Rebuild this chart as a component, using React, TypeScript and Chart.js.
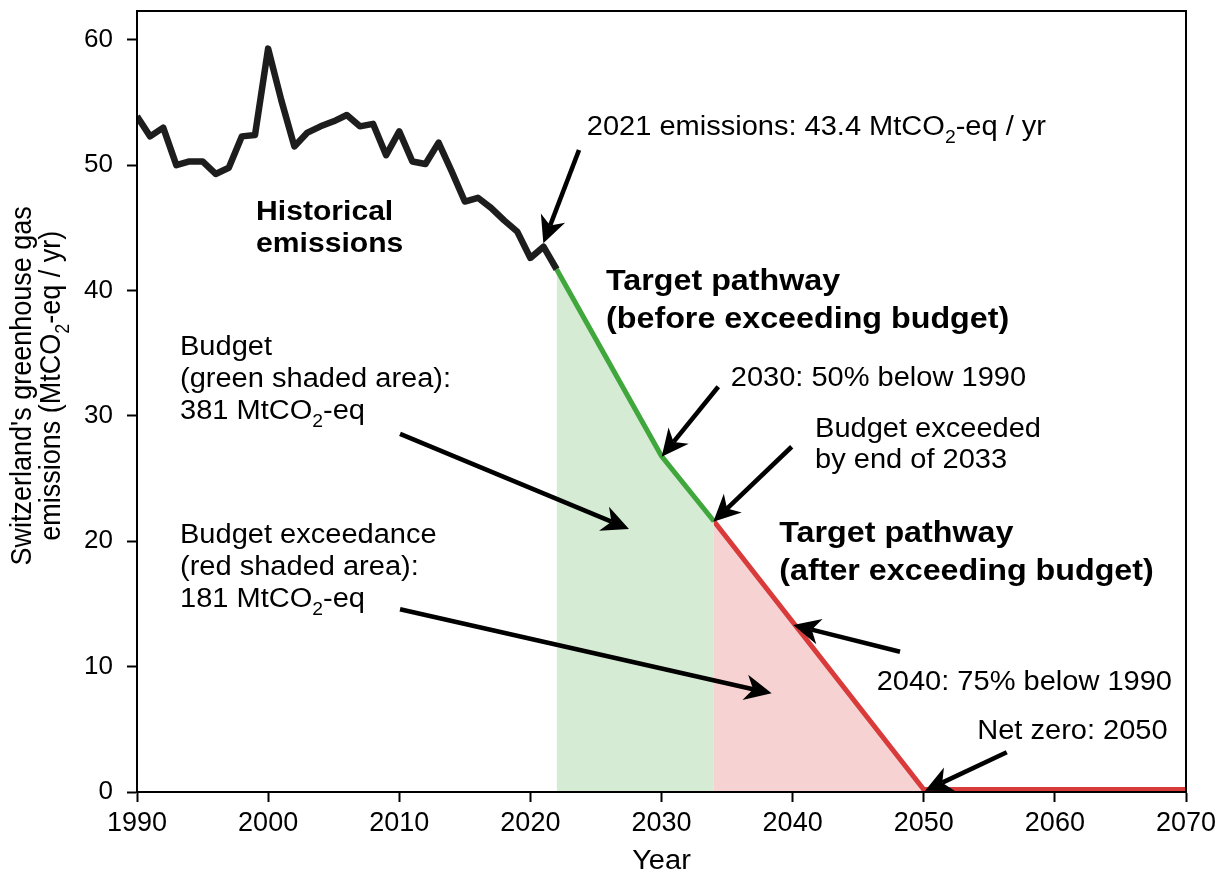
import React, { useEffect, useRef } from "react";
import { Chart, registerables } from "chart.js";

Chart.register(...registerables);

// ---------------- data ----------------
const historicalYears = [
  1990, 1991, 1992, 1993, 1994, 1995, 1996, 1997, 1998, 1999, 2000, 2001, 2002, 2003, 2004, 2005, 2006,
  2007, 2008, 2009, 2010, 2011, 2012, 2013, 2014, 2015, 2016, 2017, 2018, 2019, 2020, 2021, 2022,
];
const historicalValues = [
  53.9, 52.3, 53.0, 50.0, 50.3, 50.3, 49.3, 49.8, 52.3, 52.4, 59.3, 55.2, 51.5, 52.6, 53.1, 53.5, 54.0,
  53.1, 53.3, 50.8, 52.7, 50.3, 50.1, 51.8, 49.5, 47.1, 47.4, 46.6, 45.6, 44.7, 42.6, 43.5, 41.7,
];
const greenPathYears = [2022, 2030, 2034];
const greenPathValues = [41.7, 26.8, 21.6];
const redPathYears = [2034, 2050, 2070];
const redPathValues = [21.6, 0.2, 0.2];

const xTickValues = [1990, 2000, 2010, 2020, 2030, 2040, 2050, 2060, 2070];
const yTickValues = [0, 10, 20, 30, 40, 50, 60];
const xLimits = [1990, 2070];
const yLimits = [0, 62.3];

const xAxisTitle = "Year";
const yAxisTitleLines = [
  [{ t: "Switzerland's greenhouse gas" }],
  [{ t: "emissions (MtCO" }, { t: "2", sub: true }, { t: "-eq / yr)" }],
];

// ---------------- annotations (anchored in data coordinates) ----------------
type Seg = { t: string; sub?: boolean };
type Note = { x: number; y: number; bold: boolean; size: number; gap: number; lines: Seg[][] };

const notes: Note[] = [
  {
    x: 2024.3, y: 52.41, bold: false, size: 27, gap: 32,
    lines: [[{ t: "2021 emissions: 43.4 MtCO" }, { t: "2", sub: true }, { t: "-eq / yr" }]],
  },
  { x: 1999.08, y: 45.63, bold: true, size: 28, gap: 32, lines: [[{ t: "Historical" }], [{ t: "emissions" }]] },
  {
    x: 2025.77, y: 40.04, bold: true, size: 30, gap: 38,
    lines: [[{ t: "Target pathway" }], [{ t: "(before exceeding budget)" }]],
  },
  {
    x: 1993.28, y: 34.86, bold: false, size: 27, gap: 32,
    lines: [[{ t: "Budget" }], [{ t: "(green shaded area):" }], [{ t: "381 MtCO" }, { t: "2", sub: true }, { t: "-eq" }]],
  },
  { x: 2035.28, y: 32.39, bold: false, size: 27, gap: 32, lines: [[{ t: "2030: 50% below 1990" }]] },
  {
    x: 2041.71, y: 28.29, bold: false, size: 27, gap: 31,
    lines: [[{ t: "Budget exceeded" }], [{ t: "by end of 2033" }]],
  },
  {
    x: 2038.98, y: 19.97, bold: true, size: 30, gap: 38,
    lines: [[{ t: "Target pathway" }], [{ t: "(after exceeding budget)" }]],
  },
  {
    x: 1993.28, y: 19.89, bold: false, size: 27, gap: 32,
    lines: [[{ t: "Budget exceedance" }], [{ t: "(red shaded area):" }], [{ t: "181 MtCO" }, { t: "2", sub: true }, { t: "-eq" }]],
  },
  { x: 2046.41, y: 8.14, bold: false, size: 27, gap: 32, lines: [[{ t: "2040: 75% below 1990" }]] },
  { x: 2054.08, y: 4.2, bold: false, size: 27, gap: 32, lines: [[{ t: "Net zero: 2050" }]] },
];

const arrows = [
  { from: [2023.71, 51.21], to: [2020.99, 43.77] },
  { from: [2034.33, 32.33], to: [2030.01, 26.75] },
  { from: [2039.93, 27.54], to: [2033.95, 21.56] },
  { from: [2048.19, 11.19], to: [2040.05, 13.32] },
  { from: [2056.33, 3.17], to: [2050.1, 0.1] },
  { from: [2010.06, 28.56], to: [2027.52, 20.98] },
  { from: [2010.06, 14.57], to: [2038.4, 7.87] },
];

// ---------------- styles ----------------
const FONT = '"Liberation Sans", Arial, Helvetica, sans-serif';
const STRETCH = 1.075;
const BLACK = "#1d1d1d";
const GREEN = "#3fa73b";
const GREEN_FILL = "#d5ebd3";
const RED = "#d93b3b";
const RED_FILL = "#f6d2d2";

function fontStr(size: number, bold: boolean) {
  return `${bold ? "bold " : ""}${size}px ${FONT}`;
}

function segWidth(ctx: CanvasRenderingContext2D, segs: Seg[], size: number, bold: boolean) {
  let w = 0;
  for (const s of segs) {
    ctx.font = fontStr(s.sub ? Math.round(size * 0.65) : size, bold);
    w += ctx.measureText(s.t).width;
  }
  return w;
}

function drawSegs(ctx: CanvasRenderingContext2D, segs: Seg[], x0: number, size: number, bold: boolean) {
  let cx = x0;
  for (const s of segs) {
    const fs = s.sub ? Math.round(size * 0.65) : size;
    ctx.font = fontStr(fs, bold);
    ctx.fillText(s.t, cx, s.sub ? size * 0.3 : 0);
    cx += ctx.measureText(s.t).width;
  }
}

function drawArrow(ctx: CanvasRenderingContext2D, x1: number, y1: number, x2: number, y2: number) {
  const ang = Math.atan2(y2 - y1, x2 - x1);
  const ux = Math.cos(ang);
  const uy = Math.sin(ang);
  const px = -uy;
  const py = ux;
  const L = 27;
  const W = 13;
  const notch = 19;
  ctx.save();
  ctx.strokeStyle = "#000";
  ctx.fillStyle = "#000";
  ctx.lineWidth = 4.6;
  ctx.lineCap = "butt";
  ctx.beginPath();
  ctx.moveTo(x1, y1);
  ctx.lineTo(x2 - ux * notch, y2 - uy * notch);
  ctx.stroke();
  ctx.beginPath();
  ctx.moveTo(x2, y2);
  ctx.lineTo(x2 - ux * L + px * W, y2 - uy * L + py * W);
  ctx.lineTo(x2 - ux * notch, y2 - uy * notch);
  ctx.lineTo(x2 - ux * L - px * W, y2 - uy * L - py * W);
  ctx.closePath();
  ctx.fill();
  ctx.restore();
}

const annotationPlugin = {
  id: "annotations",
  afterDatasetsDraw(chart: any) {
    const ctx: CanvasRenderingContext2D = chart.ctx;
    const xs = chart.scales.x;
    const ys = chart.scales.y;
    const area = chart.chartArea;

    // frame
    ctx.save();
    ctx.strokeStyle = "#000";
    ctx.lineWidth = 2;
    ctx.strokeRect(area.left, area.top, area.right - area.left, area.bottom - area.top);
    ctx.restore();

    // arrows
    for (const a of arrows) {
      drawArrow(
        ctx,
        xs.getPixelForValue(a.from[0]),
        ys.getPixelForValue(a.from[1]),
        xs.getPixelForValue(a.to[0]),
        ys.getPixelForValue(a.to[1])
      );
    }

    // texts
    ctx.save();
    ctx.fillStyle = "#000";
    ctx.textBaseline = "alphabetic";
    ctx.textAlign = "left";
    for (const n of notes) {
      const bx = xs.getPixelForValue(n.x);
      const by = ys.getPixelForValue(n.y);
      n.lines.forEach((line, i) => {
        ctx.save();
        ctx.translate(bx, by + i * n.gap);
        ctx.scale(STRETCH, 1);
        drawSegs(ctx, line, 0, n.size, n.bold);
        ctx.restore();
      });
    }

    // x axis title
    ctx.save();
    ctx.translate((area.left + area.right) / 2, 869);
    ctx.scale(STRETCH, 1);
    ctx.font = fontStr(27, false);
    ctx.textAlign = "center";
    ctx.fillText(xAxisTitle, 0, 0);
    ctx.restore();

    // y axis title (rotated, two lines)
    const titleCenterY = ys.getPixelForValue(32.4);
    const baseXs = [31, 60];
    yAxisTitleLines.forEach((line, i) => {
      ctx.save();
      ctx.translate(baseXs[i], titleCenterY);
      ctx.scale(STRETCH, 1);
      ctx.rotate(-Math.PI / 2);
      const w = segWidth(ctx, line, 27, false);
      drawSegs(ctx, line, -w / 2, 27, false);
      ctx.restore();
    });
    ctx.restore();
  },
};

export default function App() {
  const ref = useRef<HTMLCanvasElement>(null);

  useEffect(() => {
    document.body.style.margin = "0";
    const canvas = ref.current;
    if (!canvas) return;

    const toPts = (xs: number[], vs: number[]) => xs.map((x, i) => ({ x, y: vs[i] }));

    const chart = new Chart(canvas, {
      type: "line",
      data: {
        datasets: [
          {
            label: "Historical emissions",
            data: toPts(historicalYears, historicalValues),
            borderColor: BLACK,
            borderWidth: 6.5,
            borderJoinStyle: "round",
            pointRadius: 0,
            fill: false,
            clip: 0,
          },
          {
            label: "Target pathway (before exceeding budget)",
            data: toPts(greenPathYears, greenPathValues),
            borderColor: GREEN,
            backgroundColor: GREEN_FILL,
            borderWidth: 5,
            pointRadius: 0,
            fill: "origin",
            clip: 0,
          },
          {
            label: "Target pathway (after exceeding budget)",
            data: toPts(redPathYears, redPathValues),
            borderColor: RED,
            backgroundColor: RED_FILL,
            borderWidth: 5,
            pointRadius: 0,
            fill: "origin",
            clip: 0,
          },
        ],
      } as any,
      options: {
        animation: false,
        responsive: false,
        devicePixelRatio: 1,
        layout: { padding: { top: 11, right: 41, left: 0, bottom: 0 } },
        plugins: {
          legend: { display: false },
          tooltip: { enabled: false },
        },
        scales: {
          x: {
            type: "linear",
            min: xLimits[0],
            max: xLimits[1],
            afterFit: (s: any) => {
              s.height = 82;
              s.paddingLeft = 0;
              s.paddingRight = 0;
              s.paddingTop = 0;
              s.paddingBottom = 0;
            },
            afterBuildTicks: (s: any) => {
              s.ticks = xTickValues.map((v) => ({ value: v }));
            },
            ticks: {
              callback: (v: any) => String(v),
              font: { size: 27, family: FONT },
              color: "#000",
              padding: 5,
              maxRotation: 0,
              autoSkip: false,
            },
            grid: {
              display: true,
              drawOnChartArea: false,
              drawTicks: true,
              tickLength: 10,
              tickWidth: 2,
              tickColor: "#000",
            },
            border: { display: true, color: "#000", width: 2 },
          },
          y: {
            type: "linear",
            min: yLimits[0],
            max: yLimits[1],
            afterFit: (s: any) => {
              s.width = 137;
              s.paddingLeft = 0;
              s.paddingRight = 0;
              s.paddingTop = 0;
              s.paddingBottom = 0;
            },
            afterBuildTicks: (s: any) => {
              s.ticks = yTickValues.map((v) => ({ value: v }));
            },
            ticks: {
              callback: (v: any) => String(v),
              font: { size: 26, family: FONT },
              color: "#000",
              padding: 14,
              autoSkip: false,
            },
            grid: {
              display: true,
              drawOnChartArea: false,
              drawTicks: true,
              tickLength: 10,
              tickWidth: 2,
              tickColor: "#000",
            },
            border: { display: true, color: "#000", width: 2 },
          },
        },
      } as any,
      plugins: [annotationPlugin],
    });

    return () => chart.destroy();
  }, []);

  return (
    <canvas
      ref={ref}
      width={1227}
      height={874}
      style={{ display: "block", width: "1227px", height: "874px" }}
    />
  );
}
